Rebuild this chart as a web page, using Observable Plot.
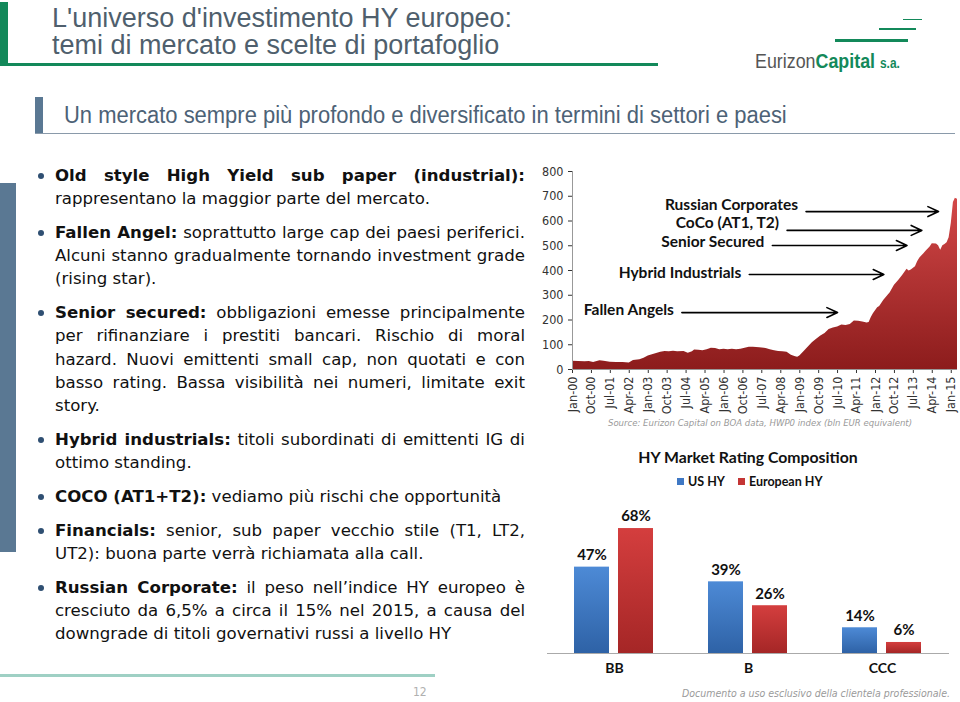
<!DOCTYPE html>
<html><head><meta charset="utf-8">
<script src="https://cdn.jsdelivr.net/npm/d3@7"></script>
<script src="https://cdn.jsdelivr.net/npm/@observablehq/plot@0.6"></script>
<style>
html,body{margin:0;padding:0;background:#fff;}
#page{position:relative;width:960px;height:702px;overflow:hidden;font-family:"DejaVu Sans","DejaVu Sans Condensed",sans-serif;color:#111;}
.abs{position:absolute;}
.title{left:52px;font-family:"Liberation Sans Narrow","Arial Narrow","Liberation Sans",sans-serif;font-size:27px;line-height:26px;height:26px;color:#4f5f6d;white-space:nowrap;}
.sub{left:64px;top:101px;font-family:"Liberation Sans Narrow","Arial Narrow","Liberation Sans",sans-serif;font-size:23px;line-height:28px;color:#4d6276;transform:scaleX(0.955);transform-origin:0 0;white-space:nowrap;}
#bullets{left:55px;top:164px;width:470px;font-size:16.6px;line-height:23.2px;color:#111;}
#bullets .p{position:relative;margin-bottom:10.6px;}
#bullets .l{text-align:justify;text-align-last:justify;white-space:nowrap;}
#bullets .l.last{text-align-last:left;}
#bullets .dot{position:absolute;left:-17px;top:9px;width:6px;height:6px;border-radius:3px;background:#2f4f72;}
.cal{font-family:"Lato","Open Sans",sans-serif;font-weight:700;}
</style></head><body><div id="page">
<div class="abs" style="left:0;top:2px;width:8px;height:62px;background:#13895a"></div>
<div class="abs" style="left:0;top:63px;width:658px;height:3px;background:#13895a"></div>
<div class="abs title" style="top:5px">L'universo d'investimento HY europeo:</div>
<div class="abs title" style="top:32px">temi di mercato e scelte di portafoglio</div>
<div class="abs" style="left:835px;top:39px;width:73px;height:3px;background:#13895a"></div>
<div class="abs" style="left:879px;top:28px;width:37px;height:2px;background:#13895a"></div>
<div class="abs" style="left:903px;top:19px;width:19px;height:1px;background:#13895a"></div>
<div class="abs" style="left:755px;top:49px;font-family:'Liberation Sans Narrow','Liberation Sans',sans-serif;font-size:21px;line-height:24px;color:#555;white-space:nowrap;transform:scaleX(0.85);transform-origin:0 0">Eurizon<b style="color:#13895a">Capital</b> <b style="color:#13895a;font-size:14px">s.a.</b></div>
<div class="abs" style="left:35px;top:97px;width:8px;height:36px;background:#5a7893"></div>
<div class="abs" style="left:35px;top:133px;width:920px;height:1px;background:#8a9aaa"></div>
<div class="abs sub">Un mercato sempre più profondo e diversificato in termini di settori e paesi</div>
<div class="abs" style="left:0;top:183px;width:16px;height:369px;background:#5a7893"></div>
<div class="abs" id="bullets"></div>
<div class="abs" id="area" style="left:535px;top:160px"></div>
<div class="abs" style="left:560px;top:417px;width:400px;text-align:center;font-family:'DejaVu Sans Condensed',sans-serif;font-size:9.5px;font-style:italic;color:#9a9a9a;white-space:nowrap">Source: Eurizon Capital on BOA data, HWP0 index (bln EUR equivalent)</div>
<div class="abs cal" style="left:598px;top:447px;width:300px;text-align:center;font-size:15.8px;color:#111">HY Market Rating Composition</div>
<div class="abs cal" id="legend" style="left:677px;top:474px;font-size:12.5px;color:#111;white-space:nowrap"></div>
<div class="abs" id="bars" style="left:535px;top:496px"></div>
<div class="abs" style="left:0;top:674px;width:435px;height:3px;background:#9fd0c4"></div>
<div class="abs" style="left:413px;top:685px;font-family:'DejaVu Sans Condensed',sans-serif;font-size:12px;color:#b0b0b0">12</div>
<div class="abs" style="left:560px;top:687px;width:390px;text-align:right;font-family:'DejaVu Sans Condensed',sans-serif;font-size:10.5px;font-style:italic;color:#9a9a9a;white-space:nowrap">Documento a uso esclusivo della clientela professionale.</div>
</div>
<script>
// ---------- text data ----------
const bulletParagraphs = [
  ["<b>Old style High Yield sub paper (industrial):</b>", "rappresentano la maggior parte del mercato."],
  ["<b>Fallen Angel:</b> soprattutto large cap dei paesi periferici.", "Alcuni stanno gradualmente tornando investment grade", "(rising star)."],
  ["<b>Senior secured:</b> obbligazioni emesse principalmente", "per rifinanziare i prestiti bancari. Rischio di moral", "hazard. Nuovi emittenti small cap, non quotati e con", "basso rating. Bassa visibilità nei numeri, limitate exit", "story."],
  ["<b>Hybrid industrials:</b> titoli subordinati di emittenti IG di", "ottimo standing."],
  ["<b>COCO (AT1+T2):</b> vediamo più rischi che opportunità"],
  ["<b>Financials:</b> senior, sub paper vecchio stile (T1, LT2,", "UT2): buona parte verrà richiamata alla call."],
  ["<b>Russian Corporate:</b> il peso nell’indice HY europeo è", "cresciuto da 6,5% a circa il 15% nel 2015, a causa del", "downgrade di titoli governativi russi a livello HY"]
];

// ---------- area chart data (bln EUR) ----------
const areaMonths = ["2000-01","2000-04","2000-07","2000-09","2000-11","2001-02","2001-04","2001-07","2001-10","2002-01","2002-04","2002-06","2002-09","2002-11","2003-01","2003-03","2003-05","2003-07","2003-09","2003-11","2004-01","2004-03","2004-06","2004-08","2004-10","2004-11","2005-01","2005-03","2005-05","2005-07","2005-09","2005-11","2006-01","2006-03","2006-05","2006-07","2006-09","2006-11","2007-01","2007-03","2007-06","2007-09","2007-11","2008-01","2008-03","2008-05","2008-07","2008-09","2008-11","2008-12","2009-01","2009-03","2009-05","2009-07","2009-09","2009-11","2010-01","2010-03","2010-05","2010-07","2010-09","2010-11","2011-01","2011-03","2011-05","2011-07","2011-09","2011-10","2011-11","2011-12","2012-02","2012-03","2012-05","2012-07","2012-08","2012-10","2012-12","2013-02","2013-04","2013-05","2013-06","2013-08","2013-09","2013-10","2013-12","2014-01","2014-03","2014-04","2014-06","2014-07","2014-08","2014-09","2014-10","2014-11","2014-12","2015-01","2015-02","2015-03","2015-04"];
const areaValues = [33,32,31,32,28,35,33,29,28,28,26,36,39,45,55,60,65,70,73,72,74,72,73,66,72,79,78,76,80,86,85,80,82,80,82,80,82,86,90,90,88,85,80,76,73,72,70,58,52,50,55,72,90,108,122,135,145,162,168,172,180,178,182,196,195,192,188,190,210,225,250,255,280,300,310,340,360,382,405,398,402,415,435,450,468,478,495,508,507,500,482,500,505,512,532,590,675,692,688];
const yTicks = [0,100,200,300,400,500,600,700,800];
const xTickLabels = ["Jan-00","Oct-00","Jul-01","Apr-02","Jan-03","Oct-03","Jul-04","Apr-05","Jan-06","Oct-06","Jul-07","Apr-08","Jan-09","Oct-09","Jul-10","Apr-11","Jan-12","Oct-12","Jul-13","Apr-14","Jan-15"];

// annotations
const annLabels = ["Russian Corporates","CoCo (AT1, T2)","Senior Secured","Hybrid Industrials","Fallen Angels"];
const annTextValue = [663, 590, 514, 390, 239];
const annArrowValue = [638, 562, 501, 384, 230];
const annStart = ["2009-04","2008-07","2007-12","2007-01","2004-05"];
const annEnd = ["2014-07","2013-11","2013-04","2012-05","2010-07"];

// ---------- bar chart data ----------
const categories = ["BB","B","CCC"];
const seriesNames = ["US HY","European HY"];
const usValues = [47,39,14];
const euValues = [68,26,6];

// ---------- bullets ----------
const bl = document.getElementById("bullets");
bulletParagraphs.forEach(lines => {
  const p = document.createElement("div"); p.className = "p";
  p.innerHTML = '<div class="dot"></div>' + lines.map((t,i) => `<div class="l${i===lines.length-1?" last":""}">${t}</div>`).join("");
  bl.appendChild(p);
});

// ---------- area chart ----------
const parseM = d3.utcParse("%Y-%m");
const parseTick = d3.utcParse("%b-%y");
const areaData = areaMonths.map((m,i) => ({date: parseM(m), value: areaValues[i]}));
const tickDates = xTickLabels.map(parseTick);
const ann = annLabels.map((t,i) => ({label:t, ty:annTextValue[i], ay:annArrowValue[i], x1:parseM(annStart[i]), x2:parseM(annEnd[i])}));
const x0 = parseM(areaMonths[0]), x1 = parseM(areaMonths[areaMonths.length-1]);

const areaDefs = () => {
  const g = d3.create("svg:defs");
  const lg = g.append("linearGradient").attr("id","areaGrad").attr("x1",0).attr("y1",0).attr("x2",0).attr("y2",1);
  lg.append("stop").attr("offset","0%").attr("stop-color","#d34848");
  lg.append("stop").attr("offset","100%").attr("stop-color","#8c1c1c");
  return g.node();
};

const areaChart = Plot.plot({
  width: 425, height: 275,
  marginLeft: 37, marginRight: 3, marginTop: 11, marginBottom: 66,
  style: {fontFamily: "'DejaVu Sans Condensed','DejaVu Sans',sans-serif", fontSize: "12.5px", color: "#333", background: "transparent", overflow: "visible"},
  x: {type: "utc", domain: [x0, x1], ticks: tickDates, tickFormat: d3.utcFormat("%b-%y"), tickRotate: -90, tickSize: 4, tickPadding: 3, label: null},
  y: {domain: [0, 800], ticks: yTicks, tickSize: 4, tickPadding: 5, label: null},
  marks: [
    areaDefs,
    Plot.areaY(areaData, {x: "date", y: "value", fill: "url(#areaGrad)"}),
    Plot.ruleY([0], {stroke: "#999"}),
    Plot.ruleX([x0], {stroke: "#999"}),
    Plot.arrow(ann, {x1: "x1", x2: "x2", y1: "ay", y2: "ay", stroke: "#000", strokeWidth: 1.6, headLength: 11, headAngle: 50}),
    Plot.text(ann, {x: "x1", y: "ty", text: "label", textAnchor: "end", dx: -8, fontFamily: "Lato, 'Open Sans', sans-serif", fontWeight: 700, fontSize: 15.5, fill: "#111"})
  ]
});
document.getElementById("area").appendChild(areaChart);

// ---------- bar chart ----------
const barData = [];
categories.forEach((c,i) => {
  barData.push({cat: c, series: seriesNames[0], value: usValues[i]});
  barData.push({cat: c, series: seriesNames[1], value: euValues[i]});
});
const barDefs = () => {
  const g = d3.create("svg:defs");
  const b = g.append("linearGradient").attr("id","gBlue").attr("x1",0).attr("y1",0).attr("x2",0).attr("y2",1);
  b.append("stop").attr("offset","0%").attr("stop-color","#4d8ad6");
  b.append("stop").attr("offset","100%").attr("stop-color","#2e62a6");
  const r = g.append("linearGradient").attr("id","gRed").attr("x1",0).attr("y1",0).attr("x2",0).attr("y2",1);
  r.append("stop").attr("offset","0%").attr("stop-color","#d43e3e");
  r.append("stop").attr("offset","100%").attr("stop-color","#a52626");
  return g.node();
};
const barColors = ["url(#gBlue)","url(#gRed)"];
const legendSolid = ["#3f78c4","#c43535"];
document.getElementById("legend").innerHTML = seriesNames.map((s,i) =>
  `<span style="display:inline-block;width:7px;height:7px;background:${legendSolid[i]};margin-right:4px;vertical-align:1px"></span>${s}`
).join('<span style="display:inline-block;width:13px"></span>');

const barChart = Plot.plot({
  width: 425, height: 190,
  marginLeft: 11, marginRight: 10, marginTop: 10, marginBottom: 33,
  style: {fontFamily: "Lato, 'Open Sans', sans-serif", fontSize: "14px", color: "#111", background: "transparent", overflow: "visible"},
  fx: {domain: categories, padding: 0, axis: "bottom", tickSize: 0, tickPadding: 10, label: null},
  x: {domain: seriesNames, paddingInner: 0.2, paddingOuter: 0.594, axis: null},
  y: {domain: [0, 80], axis: null},
  color: {domain: seriesNames, range: barColors},
  marks: [
    barDefs,
    Plot.barY(barData, {fx: "cat", x: "series", y: "value", fill: "series"}),
    Plot.ruleY([0], {stroke: "#aaa", strokeWidth: 1.2}),
    Plot.text(barData, {fx: "cat", x: "series", y: "value", text: d => d.value + "%", dy: -12, fontWeight: 700, fontSize: 15, fill: "#111"})
  ]
});
barChart.querySelectorAll("g[aria-label='fx-axis tick label'] text, g[aria-label='fx-axis'] text").forEach(t => t.setAttribute("font-weight","700"));
document.getElementById("bars").appendChild(barChart);
</script>
</body></html>
